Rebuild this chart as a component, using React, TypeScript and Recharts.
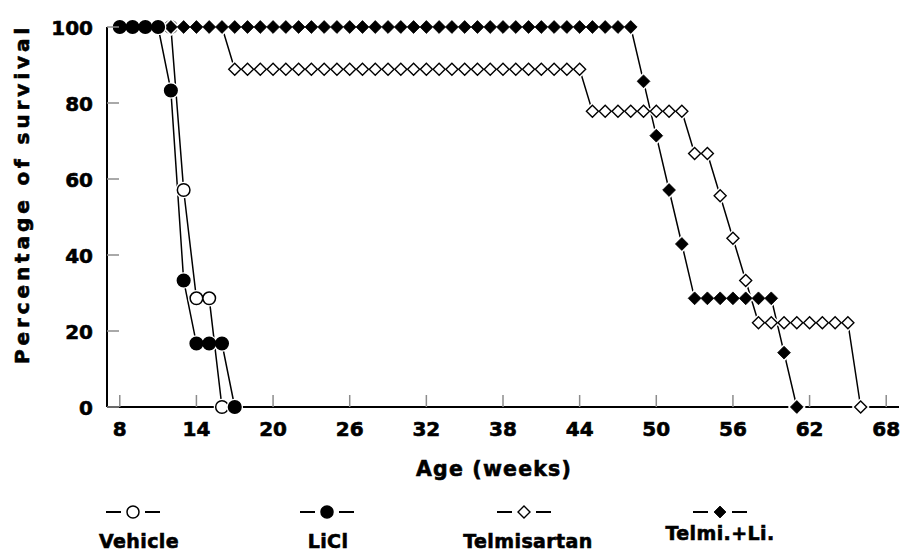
import React from 'react';
import { LineChart, Line, XAxis, YAxis, Legend, Label } from 'recharts';

// Age in weeks (shared by every group; each group's values start at week 8)
const weeks = [
  8, 9, 10, 11, 12, 13, 14, 15, 16, 17, 18, 19, 20, 21, 22, 23, 24, 25, 26, 27,
  28, 29, 30, 31, 32, 33, 34, 35, 36, 37, 38, 39, 40, 41, 42, 43, 44, 45, 46, 47,
  48, 49, 50, 51, 52, 53, 54, 55, 56, 57, 58, 59, 60, 61, 62, 63, 64, 65, 66,
];

// Percentage of survival per group
const vehicle = [100, 100, 100, 100, 100, 57.1, 28.6, 28.6, 0];
const licl = [100, 100, 100, 100, 83.3, 33.3, 16.7, 16.7, 16.7, 0];
const telmisartan = [
  100, 100, 100, 100, 100, 100, 100, 100, 100,
  88.9, 88.9, 88.9, 88.9, 88.9, 88.9, 88.9, 88.9, 88.9, 88.9,
  88.9, 88.9, 88.9, 88.9, 88.9, 88.9, 88.9, 88.9, 88.9, 88.9,
  88.9, 88.9, 88.9, 88.9, 88.9, 88.9, 88.9, 88.9,
  77.8, 77.8, 77.8, 77.8, 77.8, 77.8, 77.8, 77.8,
  66.7, 66.7, 55.6, 44.4, 33.3,
  22.2, 22.2, 22.2, 22.2, 22.2, 22.2, 22.2, 22.2,
  0,
];
const telmiLi = [
  100, 100, 100, 100, 100, 100, 100, 100, 100, 100,
  100, 100, 100, 100, 100, 100, 100, 100, 100, 100,
  100, 100, 100, 100, 100, 100, 100, 100, 100, 100,
  100, 100, 100, 100, 100, 100, 100, 100, 100, 100,
  100,
  85.7, 71.4, 57.1, 42.9,
  28.6, 28.6, 28.6, 28.6, 28.6, 28.6, 28.6,
  14.3, 0,
];

const groupNames = ['Vehicle', 'LiCl', 'Telmisartan', 'Telmi.+Li.'];
const xTicks = [8, 14, 20, 26, 32, 38, 44, 50, 56, 62, 68];
const yTicks = [0, 20, 40, 60, 80, 100];

type Shape = 'circle' | 'diamond';
interface Group {
  id: string;
  name: string;
  values: number[];
  shape: Shape;
  filled: boolean;
}

const groups: Group[] = [
  { id: 'vehicle', name: groupNames[0], values: vehicle, shape: 'circle', filled: false },
  { id: 'licl', name: groupNames[1], values: licl, shape: 'circle', filled: true },
  { id: 'telmisartan', name: groupNames[2], values: telmisartan, shape: 'diamond', filled: false },
  { id: 'telmiLi', name: groupNames[3], values: telmiLi, shape: 'diamond', filled: true },
];

// paint order: open circles first, filled circles last
const paintOrder = ['vehicle', 'telmisartan', 'telmiLi', 'licl'];

const toRows = (values: number[]) => values.map((v, i) => ({ week: weeks[i], survival: v }));

const FONT = '"DejaVu Sans", "Liberation Sans", Arial, sans-serif';
const TICK_GREY = '#8c8c8c';

// heavy display text: bold face plus a thin outline of the same colour
const heavy = {
  fontFamily: FONT,
  fontWeight: 'bold' as const,
  fill: '#000',
  stroke: '#000',
  strokeWidth: 0.6,
};

const CIRCLE_R = 6.3;
const DIAMOND_H = 6.4;
const HALO = 2;

function diamondPoints(cx: number, cy: number, h: number) {
  return `${cx},${cy - h} ${cx + h},${cy} ${cx},${cy + h} ${cx - h},${cy}`;
}

function markerShape(shape: Shape, filled: boolean, cx: number, cy: number, key: string | number, halo: boolean) {
  if (halo) {
    return shape === 'circle' ? (
      <circle key={key} cx={cx} cy={cy} r={CIRCLE_R + HALO} fill="#fff" />
    ) : (
      <polygon key={key} points={diamondPoints(cx, cy, DIAMOND_H + HALO + 0.6)} fill="#fff" />
    );
  }
  return shape === 'circle' ? (
    <circle key={key} cx={cx} cy={cy} r={CIRCLE_R} fill={filled ? '#000' : '#fff'} stroke="#000" strokeWidth={1.5} />
  ) : (
    <polygon
      key={key}
      points={diamondPoints(cx, cy, filled ? DIAMOND_H : DIAMOND_H - 0.4)}
      fill={filled ? '#000' : '#fff'}
      stroke="#000"
      strokeWidth={filled ? 0.8 : 1.4}
      strokeLinejoin="miter"
    />
  );
}

const makeDot = (g: Group, halo: boolean) => (props: any) => {
  const { cx, cy, index } = props;
  const key = `${g.id}-${halo ? 'h' : 'm'}-${index}`;
  if (cx == null || cy == null || Number.isNaN(cx) || Number.isNaN(cy)) return <g key={key} />;
  return markerShape(g.shape, g.filled, cx, cy, key, halo);
};

const XTick = (props: any) => {
  const { x, y, payload } = props;
  return (
    <g>
      <line x1={x} y1={y} x2={x} y2={y - 12} stroke={TICK_GREY} strokeWidth={1.5} />
      <text x={x} y={y + 29} textAnchor="middle" fontSize={20} {...heavy}>
        {payload.value}
      </text>
    </g>
  );
};

const YTick = (props: any) => {
  const { x, y, payload } = props;
  return (
    <g>
      <line x1={x} y1={y} x2={x + 12} y2={y} stroke={TICK_GREY} strokeWidth={1.5} />
      <text x={x - 14} y={y + 7.5} textAnchor="end" fontSize={20} {...heavy}>
        {payload.value}
      </text>
    </g>
  );
};

const YTitle = (props: any) => {
  const vb = props.viewBox || { x: 0, y: 27, width: 107, height: 380 };
  const cx = vb.x + 29;
  const cy = vb.y + vb.height / 2 - 23;
  return (
    <text
      x={cx}
      y={cy}
      transform={`rotate(-90 ${cx} ${cy})`}
      textAnchor="middle"
      fontSize={20}
      letterSpacing={3.9}
      {...heavy}
    >
      Percentage of survival
    </text>
  );
};

const XTitle = (props: any) => {
  const vb = props.viewBox || { x: 107, y: 407, width: 792, height: 146 };
  return (
    <text
      x={vb.x + vb.width / 2 - 9}
      y={vb.y + 69}
      textAnchor="middle"
      fontSize={20.5}
      letterSpacing={1.2}
      {...heavy}
    >
      Age (weeks)
    </text>
  );
};

const legendSymbolX = [133, 327, 524, 720];
const legendLabelX = [139, 328, 528, 720];
const legendLabelY = [60, 60, 60, 52];

const GroupLegend = () => (
  <svg width={903} height={65} style={{ display: 'block' }}>
    {groups.map((g, i) => {
      const cx = legendSymbolX[i];
      const cy = 24;
      return (
        <g key={g.id}>
          <line x1={cx - 27} y1={cy} x2={cx - 12} y2={cy} stroke="#000" strokeWidth={2} />
          <line x1={cx + 12} y1={cy} x2={cx + 27} y2={cy} stroke="#000" strokeWidth={2} />
          {g.shape === 'circle' ? (
            <circle cx={cx} cy={cy} r={6} fill={g.filled ? '#000' : '#fff'} stroke="#000" strokeWidth={1.5} />
          ) : (
            <polygon
              points={diamondPoints(cx, cy, 6)}
              fill={g.filled ? '#000' : '#fff'}
              stroke="#000"
              strokeWidth={g.filled ? 0.8 : 1.4}
            />
          )}
          <text
            x={legendLabelX[i]}
            y={legendLabelY[i]}
            textAnchor="middle"
            fontSize={19}
            letterSpacing={0.4}
            {...heavy}
          >
            {g.name}
          </text>
        </g>
      );
    })}
  </svg>
);

export default function App() {
  const ordered = paintOrder.map((id) => groups.find((g) => g.id === id)!);
  return (
    <div style={{ position: 'absolute', left: 0, top: 0, width: 903, height: 553, background: '#fff' }}>
      <LineChart width={903} height={553} margin={{ top: 27, right: 4, left: 0, bottom: 0 }}>
        <XAxis
          type="number"
          dataKey="week"
          domain={[7, 69]}
          ticks={xTicks}
          interval={0}
          allowDataOverflow
          height={146}
          tickSize={0}
          tickMargin={0}
          tickLine={false}
          axisLine={{ stroke: '#000', strokeWidth: 2 }}
          tick={XTick}
        >
          <Label content={XTitle} />
        </XAxis>
        <YAxis
          type="number"
          domain={[0, 100]}
          ticks={yTicks}
          interval={0}
          width={107}
          tickSize={0}
          tickMargin={0}
          tickLine={false}
          axisLine={{ stroke: '#000', strokeWidth: 2 }}
          tick={YTick}
        >
          <Label content={YTitle} />
        </YAxis>
        <Legend
          layout="horizontal"
          verticalAlign="middle"
          align="center"
          wrapperStyle={{ position: 'absolute', left: 0, top: 488, width: 903, height: 65 }}
          content={GroupLegend}
        />
        {ordered.flatMap((g) => {
          const rows = toRows(g.values);
          return [
            <Line
              key={`${g.id}-line`}
              data={rows}
              dataKey="survival"
              name={g.name}
              type="linear"
              stroke="#000"
              strokeWidth={1.5}
              dot={false}
              activeDot={false}
              isAnimationActive={false}
            />,
            <Line
              key={`${g.id}-halo`}
              data={rows}
              dataKey="survival"
              name={`${g.name}-halo`}
              legendType="none"
              stroke="none"
              dot={makeDot(g, true)}
              activeDot={false}
              isAnimationActive={false}
            />,
            <Line
              key={`${g.id}-marker`}
              data={rows}
              dataKey="survival"
              name={`${g.name}-marker`}
              legendType="none"
              stroke="none"
              dot={makeDot(g, false)}
              activeDot={false}
              isAnimationActive={false}
            />,
          ];
        })}
      </LineChart>
    </div>
  );
}
